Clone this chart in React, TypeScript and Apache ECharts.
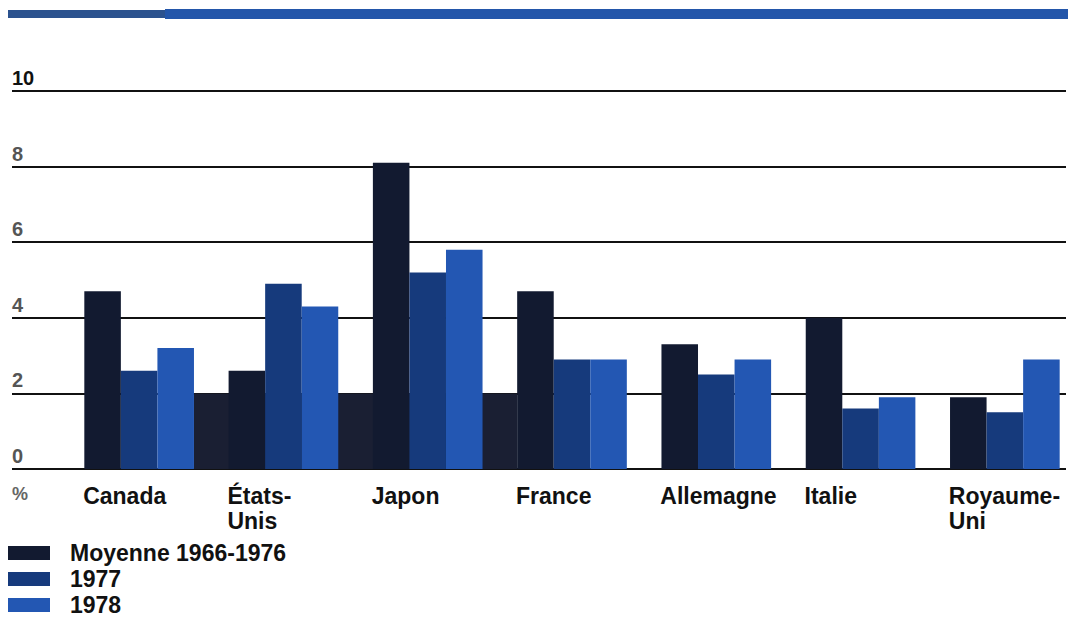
import React, { useEffect, useRef } from "react";
import * as echarts from "echarts";

// Countries and yearly rates (%)
const categories = ["Canada", "États-\nUnis", "Japon", "France", "Allemagne", "Italie", "Royaume-\nUni"];
const seriesNames = ["Moyenne 1966-1976", "1977", "1978"];
const average6676 = [4.7, 2.6, 8.1, 4.7, 3.3, 4.0, 1.9];
const values1977 = [2.6, 4.9, 5.2, 2.9, 2.5, 1.6, 1.5];
const values1978 = [3.2, 4.3, 5.8, 2.9, 2.9, 1.9, 2.9];
const yTicks = { min: 0, max: 10, interval: 2 };

const FONT = "'Liberation Sans', Arial, Helvetica, sans-serif";
const COLORS = ["#121a30", "#163a7c", "#2357b3"];
const BAR_CATEGORY_GAP = 0.24;

export default function App() {
  const ref = useRef<HTMLDivElement>(null);

  useEffect(() => {
    if (!ref.current) return;
    const chart = echarts.init(ref.current, null, { renderer: "svg" });

    const option: any = {
      animation: false,
      backgroundColor: "#ffffff",
      textStyle: { fontFamily: FONT },
      grid: [
        { left: 67, right: -2, top: 91, bottom: 148 },
        { left: 12, right: 11, top: 91, bottom: 148 },
      ],
      xAxis: [
        {
          type: "category",
          gridIndex: 0,
          data: categories,
          axisLine: { show: false },
          axisTick: { show: false },
          splitLine: { show: false },
          axisLabel: {
            interval: 0,
            margin: 14,
            align: "center",
            formatter: (v: string) =>
              v
                .split("\n")
                .map((l) => `{c|${l}}`)
                .join("\n"),
            rich: {
              c: {
                width: 112,
                align: "left",
                fontSize: 23,
                fontWeight: "bold",
                lineHeight: 25,
                color: "#111111",
                fontFamily: FONT,
              },
            },
          },
        },
        { type: "value", gridIndex: 1, min: 0, max: 1, show: false },
      ],
      yAxis: [
        {
          type: "value",
          gridIndex: 0,
          ...yTicks,
          show: false,
          splitLine: { show: false },
        },
        {
          type: "value",
          gridIndex: 1,
          ...yTicks,
          axisLine: { show: false },
          axisTick: { show: false },
          splitLine: { show: true, lineStyle: { color: "#111111", width: 2 } },
          axisLabel: {
            inside: true,
            margin: 0,
            verticalAlign: "bottom",
            padding: [0, 0, 3, 0],
            formatter: (v: number) => (v === 10 ? `{t|${v}}` : `{g|${v}}`),
            rich: {
              t: { fontSize: 20, fontWeight: "bold", color: "#111111", fontFamily: FONT },
              g: { fontSize: 20, fontWeight: "bold", color: "#555555", fontFamily: FONT },
            },
          },
        },
      ],
      legend: {
        orient: "vertical",
        left: 8,
        top: 541,
        height: 80,
        padding: 0,
        itemWidth: 42,
        itemHeight: 14,
        itemGap: 2,
        icon: "rect",
        selectedMode: false,
        data: seriesNames,
        textStyle: {
          fontSize: 23,
          lineHeight: 24,
          fontWeight: "bold",
          color: "#111111",
          fontFamily: FONT,
          padding: [0, 0, 0, 15],
        },
      },
      series: [average6676, values1977, values1978].map((d, i) => ({
        name: seriesNames[i],
        type: "bar",
        xAxisIndex: 0,
        yAxisIndex: 0,
        data: d,
        barGap: "0%",
        barCategoryGap: `${BAR_CATEGORY_GAP * 100}%`,
        itemStyle: { color: COLORS[i] },
        z: 3,
      })),
    };

    chart.setOption(option);

    // Shaded base band between the Canada and France groups, placed from the axes
    const c0 = chart.convertToPixel({ xAxisIndex: 0 }, categories[0]) as number;
    const c1 = chart.convertToPixel({ xAxisIndex: 0 }, categories[1]) as number;
    const c3 = chart.convertToPixel({ xAxisIndex: 0 }, categories[3]) as number;
    const half = ((c1 - c0) * (1 - BAR_CATEGORY_GAP)) / 2;
    const yZero = chart.convertToPixel({ yAxisIndex: 0 }, 0) as number;
    const yTwo = chart.convertToPixel({ yAxisIndex: 0 }, 2) as number;

    chart.setOption({
      graphic: [
        {
          type: "rect",
          id: "ruleLeft",
          shape: { x: 8, y: 10, width: 157, height: 8 },
          style: { fill: "#2b528e" },
          z: 10,
        },
        {
          type: "rect",
          id: "ruleMain",
          shape: { x: 165, y: 9, width: 903, height: 10 },
          style: { fill: "#2356aa" },
          z: 10,
        },
        {
          type: "rect",
          id: "band",
          shape: { x: c0 + half, y: yTwo, width: c3 - half - (c0 + half), height: yZero - yTwo },
          style: { fill: "#1a1f33" },
          z: 1,
        },
        {
          type: "text",
          id: "unit",
          x: 12,
          y: 485,
          style: {
            text: "%",
            fill: "#666666",
            font: `bold 18px ${FONT}`,
          },
          z: 10,
        },
      ],
    });

    return () => chart.dispose();
  }, []);

  return (
    <div
      ref={ref}
      style={{ position: "absolute", left: 0, top: 0, width: 1077, height: 617 }}
    />
  );
}
